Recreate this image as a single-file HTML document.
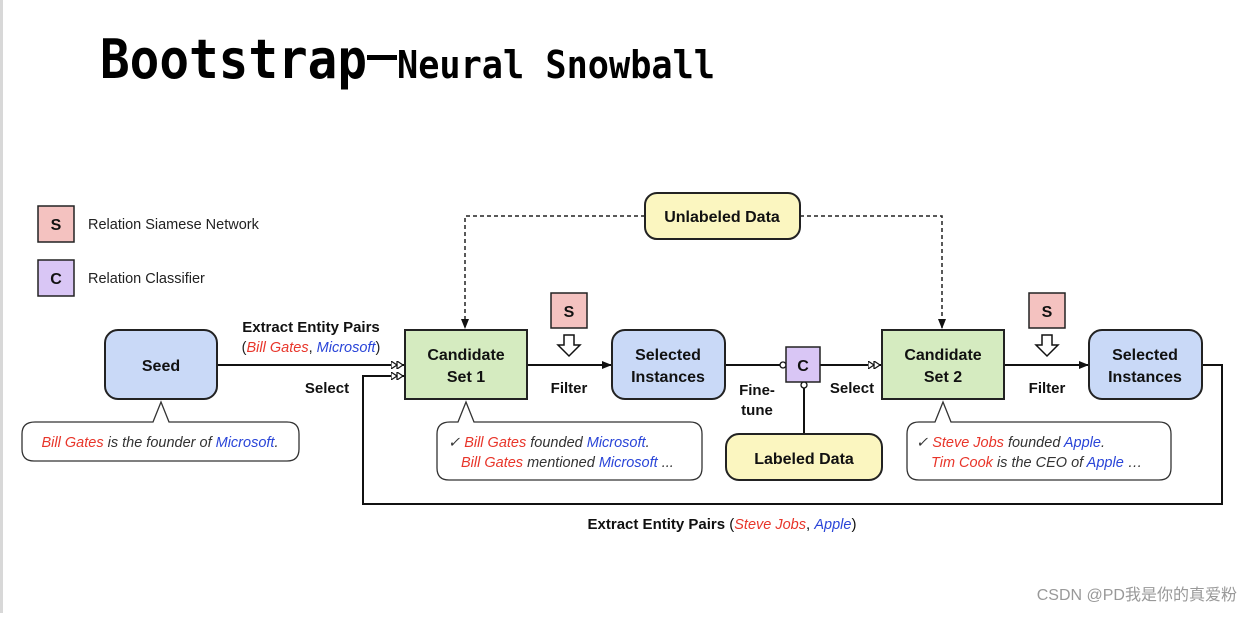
<!DOCTYPE html>
<html><head><meta charset="utf-8"><style>
html,body{margin:0;padding:0;background:#fff;}
svg text{font-family:"Liberation Sans",Arial,sans-serif;}
.b{font-weight:bold;font-size:16px;fill:#111;}
.lab{font-weight:bold;font-size:15px;fill:#111;}
.it{font-style:italic;font-size:14.5px;fill:#333;}
.r{fill:#e8352a;} .bl{fill:#2a45d8;}
svg text.title{font-family:"DejaVu Sans Mono","Liberation Mono",monospace;font-weight:bold;}
</style></head><body>
<svg width="1252" height="613" viewBox="0 0 1252 613" xmlns="http://www.w3.org/2000/svg">
<defs>
<marker id="ah" markerWidth="10" markerHeight="8" refX="9" refY="4" orient="auto" markerUnits="userSpaceOnUse"><path d="M0,0 L10,4 L0,8 z" fill="#111"/></marker>
<marker id="dah" markerWidth="14" markerHeight="8" refX="13" refY="4" orient="auto" markerUnits="userSpaceOnUse"><path d="M0,0 L6,4 L0,8 z M6,0 L12,4 L6,8 z" fill="#fff" stroke="#111" stroke-width="1.2"/></marker>
<marker id="oc" markerWidth="8" markerHeight="8" refX="7" refY="4" orient="auto" markerUnits="userSpaceOnUse"><circle cx="4" cy="4" r="3" fill="#fff" stroke="#111" stroke-width="1.3"/></marker>
</defs>
<rect x="0" y="0" width="3" height="613" fill="#d8d8d8"/>
<text class="title" x="100" y="78" font-size="54" textLength="267" lengthAdjust="spacingAndGlyphs">Bootstrap</text>
<rect x="367" y="55" width="30" height="5" fill="#000"/>
<text class="title" x="397" y="78" font-size="38" textLength="318" lengthAdjust="spacingAndGlyphs">Neural Snowball</text>

<!-- legend -->
<rect x="38" y="206" width="36" height="36" fill="#f4c2c0" stroke="#222" stroke-width="1.5"/>
<text x="56" y="230" text-anchor="middle" class="b">S</text>
<text x="88" y="229" font-size="14.5" fill="#222">Relation Siamese Network</text>
<rect x="38" y="260" width="36" height="36" fill="#d9c6f5" stroke="#222" stroke-width="1.5"/>
<text x="56" y="284" text-anchor="middle" class="b">C</text>
<text x="88" y="283" font-size="14.5" fill="#222">Relation Classifier</text>

<!-- dashed -->
<path d="M645,216 H465 V328" fill="none" stroke="#222" stroke-width="1.5" stroke-dasharray="4,3" marker-end="url(#ah)"/>
<path d="M800,216 H942 V328" fill="none" stroke="#222" stroke-width="1.5" stroke-dasharray="4,3" marker-end="url(#ah)"/>
<rect x="645" y="193" width="155" height="46" rx="12" fill="#fbf6c0" stroke="#222" stroke-width="2"/>
<text x="722" y="222" text-anchor="middle" class="b">Unlabeled Data</text>

<!-- lines -->
<line x1="217" y1="365" x2="404" y2="365" stroke="#111" stroke-width="2" marker-end="url(#dah)"/>
<path d="M1202,365 H1222 V504 H363 V376 H404" fill="none" stroke="#111" stroke-width="2" marker-end="url(#dah)"/>
<line x1="527" y1="365" x2="611" y2="365" stroke="#111" stroke-width="2" marker-end="url(#ah)"/>
<line x1="725" y1="365" x2="786" y2="365" stroke="#111" stroke-width="2" marker-end="url(#oc)"/>
<line x1="820" y1="365" x2="881" y2="365" stroke="#111" stroke-width="2" marker-end="url(#dah)"/>
<line x1="1004" y1="365" x2="1088" y2="365" stroke="#111" stroke-width="2" marker-end="url(#ah)"/>
<line x1="804" y1="434" x2="804" y2="382" stroke="#111" stroke-width="2" marker-end="url(#oc)"/>

<!-- boxes -->
<rect x="105" y="330" width="112" height="69" rx="13" fill="#c9d9f7" stroke="#222" stroke-width="2"/>
<text x="161" y="371" text-anchor="middle" class="b">Seed</text>
<rect x="405" y="330" width="122" height="69" fill="#d5ebc0" stroke="#222" stroke-width="2"/>
<text x="466" y="360" text-anchor="middle" class="b">Candidate</text>
<text x="466" y="382" text-anchor="middle" class="b">Set 1</text>
<rect x="612" y="330" width="113" height="69" rx="13" fill="#c9d9f7" stroke="#222" stroke-width="2"/>
<text x="668" y="360" text-anchor="middle" class="b">Selected</text>
<text x="668" y="382" text-anchor="middle" class="b">Instances</text>
<rect x="786" y="347" width="34" height="35" fill="#d9c6f5" stroke="#222" stroke-width="1.5"/>
<text x="803" y="371" text-anchor="middle" class="b">C</text>
<rect x="882" y="330" width="122" height="69" fill="#d5ebc0" stroke="#222" stroke-width="2"/>
<text x="943" y="360" text-anchor="middle" class="b">Candidate</text>
<text x="943" y="382" text-anchor="middle" class="b">Set 2</text>
<rect x="1089" y="330" width="113" height="69" rx="13" fill="#c9d9f7" stroke="#222" stroke-width="2"/>
<text x="1145" y="360" text-anchor="middle" class="b">Selected</text>
<text x="1145" y="382" text-anchor="middle" class="b">Instances</text>
<rect x="726" y="434" width="156" height="46" rx="13" fill="#fbf6c0" stroke="#222" stroke-width="2"/>
<text x="804" y="464" text-anchor="middle" class="b">Labeled Data</text>

<!-- S filters -->
<rect x="551" y="293" width="36" height="35" fill="#f4c2c0" stroke="#222" stroke-width="1.5"/>
<text x="569" y="317" text-anchor="middle" class="b">S</text>
<path d="M564,335 h10 v10 h6 l-11,11 l-11,-11 h6 z" fill="#fff" stroke="#111" stroke-width="1.5"/>
<rect x="1029" y="293" width="36" height="35" fill="#f4c2c0" stroke="#222" stroke-width="1.5"/>
<text x="1047" y="317" text-anchor="middle" class="b">S</text>
<path d="M1042,335 h10 v10 h6 l-11,11 l-11,-11 h6 z" fill="#fff" stroke="#111" stroke-width="1.5"/>

<!-- labels -->
<text x="311" y="332" text-anchor="middle" class="lab">Extract Entity Pairs</text>
<text x="311" y="352" text-anchor="middle" font-size="14.5" fill="#222">(<tspan class="it r">Bill Gates</tspan>, <tspan class="it bl">Microsoft</tspan>)</text>
<text x="327" y="393" text-anchor="middle" class="lab">Select</text>
<text x="569" y="393" text-anchor="middle" class="lab">Filter</text>
<text x="757" y="395" text-anchor="middle" class="lab">Fine-</text>
<text x="757" y="415" text-anchor="middle" class="lab">tune</text>
<text x="852" y="393" text-anchor="middle" class="lab">Select</text>
<text x="1047" y="393" text-anchor="middle" class="lab">Filter</text>
<text x="722" y="529" text-anchor="middle" class="lab">Extract Entity Pairs <tspan font-weight="normal">(</tspan><tspan class="it r" font-weight="normal">Steve Jobs</tspan><tspan font-weight="normal">, </tspan><tspan class="it bl" font-weight="normal">Apple</tspan><tspan font-weight="normal">)</tspan></text>

<!-- callouts -->
<path d="M35,422 H153 L161,402 L169,422 H287 Q299,422 299,434 V449 Q299,461 287,461 H34 Q22,461 22,449 V434 Q22,422 35,422 Z" fill="#fff" stroke="#333" stroke-width="1.3"/>
<text x="160" y="447" text-anchor="middle" class="it"><tspan class="r">Bill Gates</tspan> is the founder of <tspan class="bl">Microsoft</tspan>.</text>
<path d="M450,422 H458 L466,402 L474,422 H690 Q702,422 702,434 V468 Q702,480 690,480 H449 Q437,480 437,468 V434 Q437,422 450,422 Z" fill="#fff" stroke="#333" stroke-width="1.3"/>
<text x="448" y="447" class="it">✓ <tspan class="r">Bill Gates</tspan> founded <tspan class="bl">Microsoft</tspan>.</text>
<text x="461" y="467" class="it"><tspan class="r">Bill Gates</tspan> mentioned <tspan class="bl">Microsoft</tspan> ...</text>
<path d="M919,422 H935 L943,402 L951,422 H1159 Q1171,422 1171,434 V468 Q1171,480 1159,480 H919 Q907,480 907,468 V434 Q907,422 919,422 Z" fill="#fff" stroke="#333" stroke-width="1.3"/>
<text x="916" y="447" class="it">✓ <tspan class="r">Steve Jobs</tspan> founded <tspan class="bl">Apple</tspan>.</text>
<text x="931" y="467" class="it"><tspan class="r">Tim Cook</tspan> is the CEO of <tspan class="bl">Apple</tspan> …</text>

<text x="1237" y="600" text-anchor="end" font-size="16" fill="#999" style="font-family:'Liberation Sans','Noto Sans CJK SC',sans-serif">CSDN @PD我是你的真爱粉</text>
</svg>
</body></html>
